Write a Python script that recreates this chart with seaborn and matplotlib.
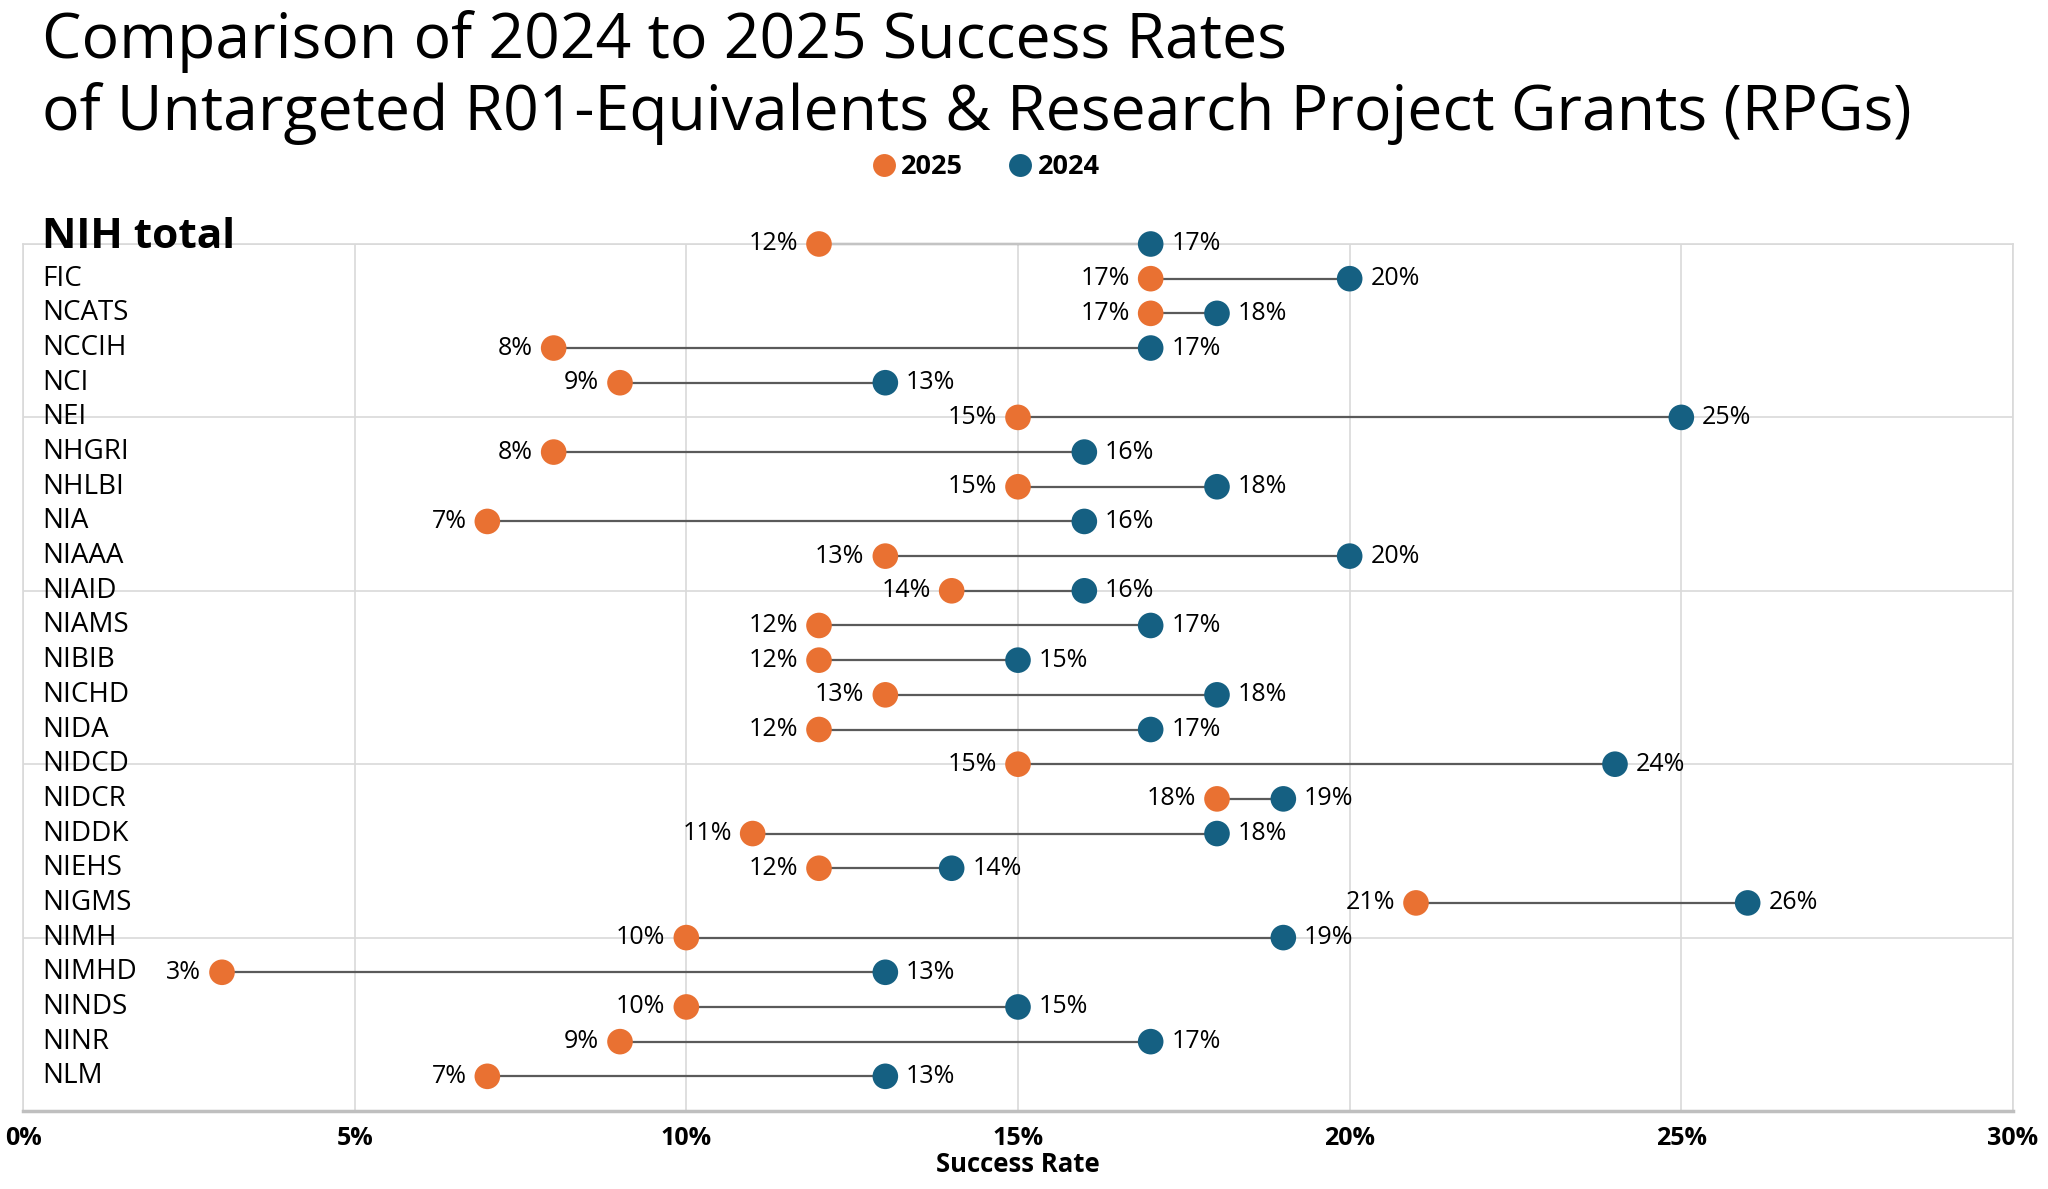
import matplotlib
matplotlib.use("Agg")
import matplotlib.pyplot as plt
import matplotlib.transforms as mtransforms
from matplotlib.lines import Line2D
import seaborn as sns
import pandas as pd
import numpy as np

agencies = ["NIH total", "FIC", "NCATS", "NCCIH", "NCI", "NEI", "NHGRI", "NHLBI", "NIA",
            "NIAAA", "NIAID", "NIAMS", "NIBIB", "NICHD", "NIDA", "NIDCD", "NIDCR", "NIDDK",
            "NIEHS", "NIGMS", "NIMH", "NIMHD", "NINDS", "NINR", "NLM"]
rate_2025 = [12, 17, 17, 8, 9, 15, 8, 15, 7, 13, 14, 12, 12, 13, 12, 15, 18, 11, 12, 21, 10, 3, 10, 9, 7]
rate_2024 = [17, 20, 18, 17, 13, 25, 16, 18, 16, 20, 16, 17, 15, 18, 17, 24, 19, 18, 14, 26, 19, 13, 15, 17, 13]
x_ticks = [0, 5, 10, 15, 20, 25, 30]
x_tick_labels = ["0%", "5%", "10%", "15%", "20%", "25%", "30%"]

C25 = "#E97132"
C24 = "#156082"
FONT = ["Open Sans", "DejaVu Sans"]

sns.set_theme(style="white")
plt.rcParams["font.family"] = FONT
plt.rcParams["text.color"] = "black"
plt.rcParams["xtick.color"] = "black"
plt.rcParams["axes.labelcolor"] = "black"

rows = np.arange(len(agencies))
df = pd.DataFrame({
    "agency": agencies * 2,
    "row": np.concatenate([rows, rows]),
    "rate": rate_2025 + rate_2024,
    "year": ["2025"] * len(agencies) + ["2024"] * len(agencies),
})

W, H = 2048, 1189
fig = plt.figure(figsize=(W / 100, H / 100), dpi=100)
L, R, T, B = 23, 2013, 244, 1111
ax = fig.add_axes([L / W, 1 - B / H, (R - L) / W, (B - T) / H])

ax.hlines(rows, rate_2025, rate_2024, color="#5a5a5a", lw=1.6, zorder=2, clip_on=False)
sns.scatterplot(data=df, x="rate", y="row", hue="year",
                palette={"2025": C25, "2024": C24}, s=340, edgecolor="none",
                linewidth=0, zorder=3, legend=False, ax=ax, clip_on=False)

ax.set_xlim(0, 30)
ax.set_ylim(25, 0)
ax.set_xticks(x_ticks)
ax.set_xticklabels(x_tick_labels, fontsize=18, fontweight="bold")
ax.set_yticks([0, 5, 10, 15, 20, 25])
ax.set_yticklabels([])
ax.tick_params(axis="both", length=0)
ax.tick_params(axis="x", pad=11)
ax.grid(True, color="#d9d9d9", lw=1.2)
ax.set_axisbelow(True)
for side in ["top", "left", "right"]:
    ax.spines[side].set_color("#d9d9d9")
    ax.spines[side].set_linewidth(1.2)
ax.spines["bottom"].set_color("#bfbfbf")
ax.spines["bottom"].set_linewidth(2.5)
ax.set_xlabel("Success Rate", fontsize=18.5, fontweight="bold", labelpad=0)
ax.set_ylabel("")

blend = mtransforms.blended_transform_factory(ax.transAxes, ax.transData)
lx = 19 / (R - L)
for i, name in enumerate(agencies):
    if i == 0:
        ax.annotate(name, xy=(lx, 0), xycoords=blend, xytext=(0, -3),
                    textcoords="offset points", fontsize=30.5, fontweight="bold",
                    ha="left", va="baseline")
    else:
        ax.text(lx, i, name, transform=blend, fontsize=20, ha="left", va="center")

for i in rows:
    a, b = rate_2025[i], rate_2024[i]
    ax.annotate(f"{a}%", xy=(a, i), xytext=(-15, 0), textcoords="offset points",
                ha="right", va="center", fontsize=18)
    ax.annotate(f"{b}%", xy=(b, i), xytext=(15, 0), textcoords="offset points",
                ha="left", va="center", fontsize=18)

fig.text(42 / W, 1 - 58 / H, "Comparison of 2024 to 2025 Success Rates",
         fontsize=45, ha="left", va="baseline")
fig.text(42 / W, 1 - 130 / H, "of Untargeted R01-Equivalents & Research Project Grants (RPGs)",
         fontsize=45, ha="left", va="baseline")

handles = [Line2D([], [], marker="o", ls="none", color=C25, markersize=16.5, markeredgewidth=0),
           Line2D([], [], marker="o", ls="none", color=C24, markersize=16.5, markeredgewidth=0)]
fig.legend(handles, ["2025", "2024"], loc="center", bbox_to_anchor=(985 / W, 1 - 167 / H),
           ncol=2, frameon=False, prop={"weight": "bold", "size": 19.5},
           handletextpad=0.15, columnspacing=1.6, handlelength=1.0)

fig.savefig("out.png", dpi=100)
